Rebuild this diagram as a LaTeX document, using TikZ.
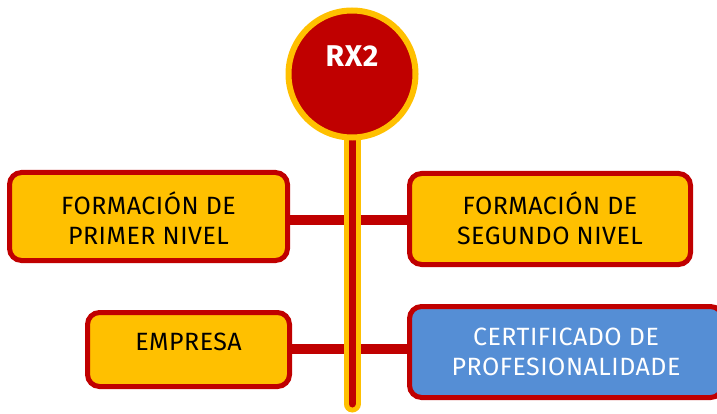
\documentclass[tikz,border=0pt]{standalone}
\usepackage{fontspec}
\setmainfont{Fira Sans}[LetterSpace=2]
\definecolor{cred}{HTML}{C00000}
\definecolor{cyel}{HTML}{FFC000}
\definecolor{cblue}{HTML}{558ED5}
\begin{document}
\begin{tikzpicture}[x=1pt,y=-1pt,
  box/.style={draw=cred, line width=5pt, rounded corners=12pt, fill=cyel, inner sep=0pt},
  lbl/.style={font=\fontsize{25}{30}\selectfont, align=center, text=black, inner sep=0pt},
  link/.style={draw=cred, line width=10pt}]
\useasboundingbox (0,0) rectangle (717,414);
\clip (0,0) rectangle (717,414);
% boxes
\node[box, minimum width=278pt, minimum height=88pt] (b1) at (148.5,216.5) {};
\node[box, minimum width=281pt, minimum height=91pt] (b2) at (550,219) {};
\node[box, minimum width=202pt, minimum height=74pt] (b3) at (188.5,349.5) {};
\node[box, fill=cblue, minimum width=313pt, minimum height=91pt] (b4) at (566,352) {};
% stem
\coordinate (stemtop) at (352,120);
\coordinate (stembot) at (352,404);
% links
\draw[link] (b1.east |- 0,220) -- (b2.west |- 0,220);
\draw[link] (b3.east |- 0,349) -- (b4.west |- 0,349);
\draw[cyel, line width=17pt, line cap=round] (stemtop) -- (stembot);
\draw[cred, line width=7pt, line cap=round] (stemtop) -- (stembot);
% circle
\node[circle, draw=cyel, line width=6pt, fill=cred, minimum size=127pt, inner sep=0pt] (rx) at (352,74) {};
\node[font=\fontsize{30}{34}\selectfont\bfseries, text=white, inner sep=0pt] (rxl) at (352,56) {RX2};
% labels
\node[lbl] (t1) at (148.5,218) {FORMACIÓN DE\\PRIMER NIVEL};
\node[lbl] (t2) at (550,218.5) {FORMACIÓN DE\\SEGUNDO NIVEL};
\node[lbl] (t3) at (188.5,342) {EMPRESA};
\node[lbl, text=white] (t4) at (566,352) {CERTIFICADO DE\\PROFESIONALIDADE};
\end{tikzpicture}
\end{document}
